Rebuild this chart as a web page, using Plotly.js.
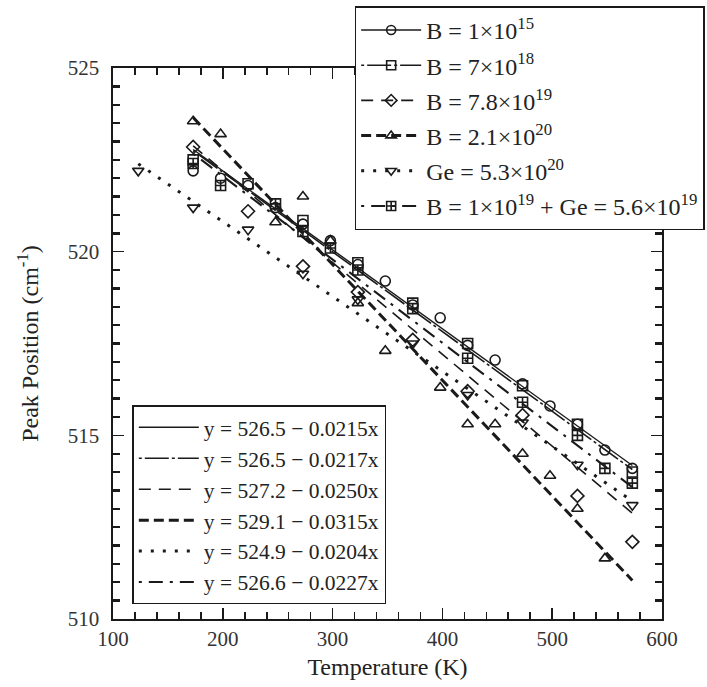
<!DOCTYPE html>
<html>
<head>
<meta charset="utf-8">
<script src="https://cdn.plot.ly/plotly-3.0.1.min.js"></script>
<style>html,body{margin:0;padding:0;background:#fff;}#chart{width:707px;height:687px;}</style>
</head>
<body>
<div id="chart"></div>
<script>
// Temperatures (K)
const tempsAll = [173,198,223,248,273,298,323,348,373,398,423,448,473,498,523,548,573];
const tempsEven = [173,223,273,323,373,423,473,523,573];

// Peak positions (cm^-1)
const b1e15 = [522.2,522.0,521.8,521.2,520.75,520.3,519.65,519.2,518.55,518.2,517.45,517.05,516.4,515.8,515.3,514.6,514.1];
const b7e18 = [522.5,521.85,520.85,519.7,518.6,517.5,516.35,515.3,514.0];
const b78e19 = [522.85,521.1,519.6,518.9,517.6,516.2,515.55,513.35,512.1];
const tempsB21e20 = [173,198,248,273,298,323,348,398,423,448,473,498,523,548];
const b21e20 = [523.55,523.2,520.8,521.5,520.3,518.6,517.3,516.3,515.3,515.3,514.5,513.9,513.0,511.65];
const tempsGe = [123,173,223,273,323,373,423,473,523,573];
const ge53e20 = [522.2,521.2,520.6,519.4,518.7,517.5,516.1,515.35,514.2,513.1];
const tempsBGe = [173,198,248,273,298,323,373,423,473,523,548,573];
const bGe = [522.4,521.8,521.3,520.55,520.1,519.5,518.45,517.1,515.9,515.0,514.1,513.7];

// Linear fit end points
const fitX = [173,573];
const fitXGe = [123,573];
const fit1 = [522.78,514.18];
const fit2 = [522.75,514.07];
const fit3 = [522.88,512.88];
const fit4 = [523.65,511.05];
const fit5 = [522.39,513.21];
const fit6 = [522.67,513.59];

const dataNames = ['B = 1×10<sup>15</sup>','B = 7×10<sup>18</sup>','B = 7.8×10<sup>19</sup>','B = 2.1×10<sup>20</sup>','Ge = 5.3×10<sup>20</sup>','B = 1×10<sup>19</sup> + Ge = 5.6×10<sup>19</sup>'];
const fitNames = ['y = 526.5 − 0.0215x','y = 526.5 − 0.0217x','y = 527.2 − 0.0250x','y = 529.1 − 0.0315x','y = 524.9 − 0.0204x','y = 526.6 − 0.0227x'];

const C = '#1a1a1a';
const styles = [
  {dash:'solid', width:1.4},
  {dash:'3px,3px,24px,3px', width:1.6},
  {dash:'12px,8px', width:1.6},
  {dash:'10px,5px', width:3},
  {dash:'3px,9px', width:3},
  {dash:'3px,7px,14px,7px', width:2}
];
const symbols = ['circle-open','square-open','diamond-open','triangle-up-open','triangle-down-open','square-cross-open'];
const xs = [tempsAll,tempsEven,tempsEven,tempsB21e20,tempsGe,tempsBGe];
const ys = [b1e15,b7e18,b78e19,b21e20,ge53e20,bGe];
const fx = [fitX,fitX,fitX,fitX,fitXGe,fitX];
const fy = [fit1,fit2,fit3,fit4,fit5,fit6];

const traces = [];
for (let i=0;i<6;i++){
  traces.push({x:fx[i], y:fy[i], mode:'lines', name:fitNames[i], legend:'legend2',
    line:{color:C, dash:styles[i].dash, width:styles[i].width}, hoverinfo:'skip'});
}
for (let i=0;i<6;i++){
  traces.push({x:xs[i], y:ys[i], mode:'markers', showlegend:false,
    marker:{symbol:symbols[i], size:10, color:C, line:{width:1.6, color:C}}});
}
for (let i=0;i<6;i++){
  traces.push({x:[null], y:[null], mode:'lines+markers', name:dataNames[i], legend:'legend',
    legendgroup:'g'+i,
    line:{color:C, dash:styles[i].dash, width:styles[i].width},
    marker:{symbol:symbols[i], size:9, color:C, line:{width:1.6, color:C}}});
}

const font = 'Liberation Serif, Times New Roman, serif';
const axisCommon = {
  showline:true, linecolor:C, linewidth:1.6, mirror:'allticks',
  ticks:'inside', ticklen:11, tickwidth:1.6, tickcolor:C,
  showgrid:false, zeroline:false,
  tickfont:{family:font, size:21, color:'#333'}
};
const layout = {
  width:707, height:687,
  margin:{l:113, r:45, t:68, b:68, autoexpand:false},
  paper_bgcolor:'#fff', plot_bgcolor:'#fff',
  font:{family:font, color:'#222'},
  xaxis:Object.assign({}, axisCommon, {
    range:[100,600], dtick:100, tick0:100,
    minor:{dtick:20, ticks:'inside', ticklen:7, tickwidth:1.6, tickcolor:C},
    title:{text:'Temperature (K)', font:{family:font, size:24, color:'#222'}, standoff:8}
  }),
  yaxis:Object.assign({}, axisCommon, {
    range:[510,525], dtick:5, tick0:510,
    minor:{dtick:0.5, ticks:'inside', ticklen:7, tickwidth:2.4, tickcolor:C},
    ticklabelstandoff:8,
    title:{text:'Peak Position (cm<sup>-1</sup>)', font:{family:font, size:24, color:'#222'}, standoff:22}
  }),
  legend:{x:0.44, y:1.112, xanchor:'left', yanchor:'top', bgcolor:'#fff', bordercolor:C, borderwidth:1.6,
    font:{family:font, size:24, color:'#222'}, itemwidth:60, traceorder:'grouped', tracegroupgap:1},
  legend2:{x:0.035, y:0.388, xanchor:'left', yanchor:'top', bgcolor:'#fff', bordercolor:C, borderwidth:1.6,
    font:{family:font, size:21.5, color:'#222'}, itemwidth:60, traceorder:'normal'},
  showlegend:true
};
Plotly.newPlot('chart', traces, layout, {displayModeBar:false, staticPlot:true});
</script>
</body>
</html>
